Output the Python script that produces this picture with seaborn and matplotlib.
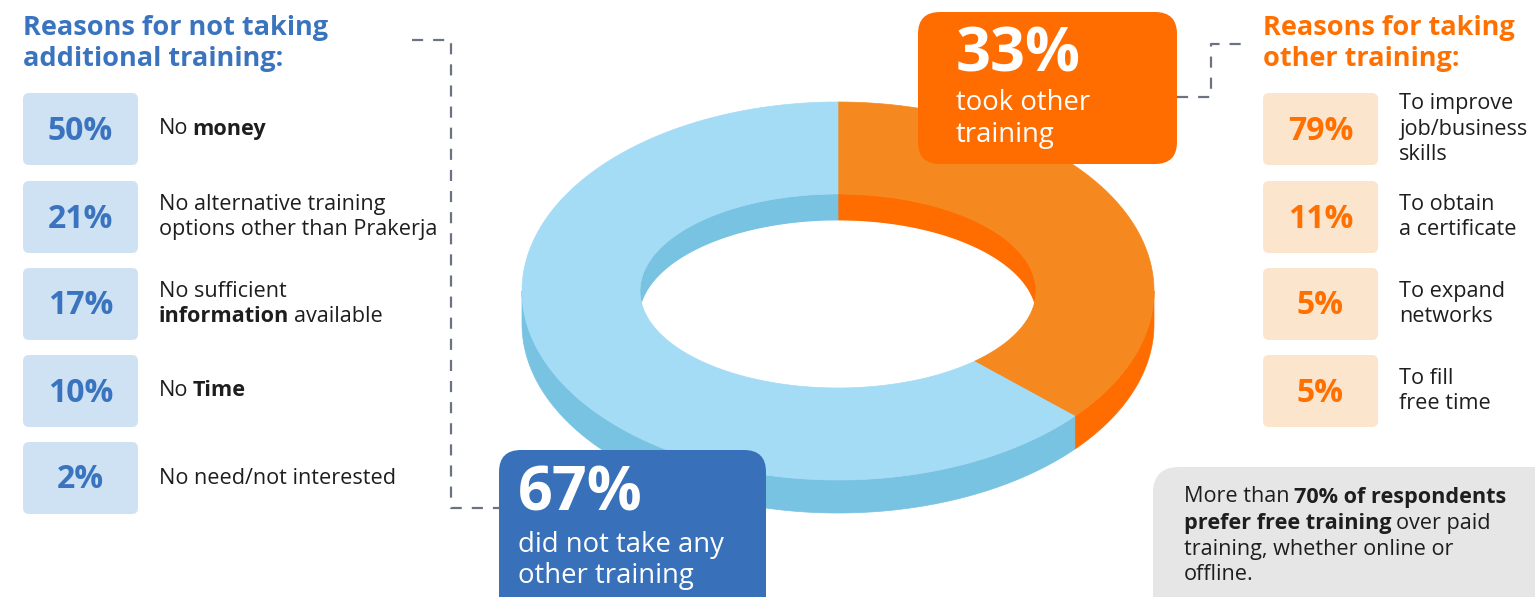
import numpy as np
import matplotlib
matplotlib.use("Agg")
import matplotlib.pyplot as plt
import seaborn as sns
from matplotlib.patches import Polygon, FancyBboxPatch

# ---------------- data ----------------
ring_labels = ["took other training", "did not take any other training"]
ring_values = [33, 67]

left_title = ["Reasons for not taking", "additional training:"]
left_pct = ["50%", "21%", "17%", "10%", "2%"]
left_reasons = [
    [[("No", False), ("money", True)]],
    [[("No alternative training", False)], [("options other than Prakerja", False)]],
    [[("No sufficient", False)], [("information", True), ("available", False)]],
    [[("No", False), ("Time", True)]],
    [[("No need/not interested", False)]],
]

right_title = ["Reasons for taking", "other training:"]
right_pct = ["79%", "11%", "5%", "5%"]
right_reasons = [
    [[("To improve", False)], [("job/business", False)], [("skills", False)]],
    [[("To obtain", False)], [("a certificate", False)]],
    [[("To expand", False)], [("networks", False)]],
    [[("To fill", False)], [("free time", False)]],
]

orange_big = "33%"
orange_sub = ["took other", "training"]
blue_big = "67%"
blue_sub = ["did not take any", "other training"]

note_lines = [
    [("More than", False), ("70% of respondents", True)],
    [("prefer free training", True), ("over paid", False)],
    [("training, whether online or", False)],
    [("offline.", False)],
]

# ---------------- style ----------------
sns.set_theme(style="white")
FONT = ["Open Sans", "DejaVu Sans"]
plt.rcParams["font.family"] = FONT

C_BLUE = "#3871B9"
C_BLUE_T = "#3A74BF"
C_ORANGE = "#FF6D00"
C_ORANGE_T = "#FF7000"
C_LBLUE_BOX = "#CFE2F4"
C_LORANGE_BOX = "#FCE5CD"
C_GRAY_BOX = "#E6E6E6"
C_TEXT = "#1E1E1E"
C_DASH = "#6B7280"
ring_top = ["#F5891F", "#A4DBF5"]
ring_side = ["#FF6D00", "#78C2E2"]

BODY = 15.6

W, H = 1535, 597
fig = plt.figure(figsize=(W / 100, H / 100), dpi=100)
ax = fig.add_axes([0, 0, 1, 1])
ax.set_xlim(0, W)
ax.set_ylim(H, 0)
ax.axis("off")


def rich_line(x, y, segs, size, color, z=5):
    prev = None
    for txt, bold in segs:
        kw = dict(fontsize=size, color=color, fontweight="bold" if bold else "normal",
                  family=FONT, zorder=z)
        if prev is None:
            prev = ax.text(x, y, txt, ha="left", va="center", **kw)
        else:
            prev = ax.annotate(txt, xy=(1, 0.5), xycoords=prev, xytext=(size * 0.2, 0),
                               textcoords="offset points", ha="left", va="center", **kw)


def rbox(x, y, w, h, r, fc, z=3):
    ax.add_patch(FancyBboxPatch((x, y), w, h, boxstyle=f"round,pad=0,rounding_size={r}",
                                fc=fc, ec="none", zorder=z))


# ---------------- donut (3D ring with mild perspective warp) ----------------
cx, cy = 838, 291
ao, bo = 316, 189
ai, bi = 198, 97
d_out, d_in = 33, 27
k_out, k_in = -15.0, -21.0   # perspective: far side compressed, near side stretched


def arc(a, b, t0, t1, k, dy=0, n=240):
    t = np.linspace(t0, t1, n)
    th = np.radians(t + k * np.sin(np.radians(2 * t)))
    return np.column_stack([cx + a * np.sin(th), cy - b * np.cos(th) + dy])


bounds = np.concatenate([[0], np.cumsum(ring_values) / np.sum(ring_values) * 360])

# outer walls (front half only)
for i in range(len(ring_values)):
    lo, hi = max(bounds[i], 90), min(bounds[i + 1], 270)
    if lo < hi:
        a = arc(ao, bo, lo, hi, k_out)
        poly = np.vstack([a, a[::-1] + [0, d_out]])
        ax.add_patch(Polygon(poly, closed=True, fc=ring_side[i], ec=ring_side[i], lw=0.5, zorder=1))

# top faces
for i in range(len(ring_values)):
    t0, t1 = bounds[i], bounds[i + 1]
    poly = np.vstack([arc(ao, bo, t0, t1, k_out), arc(ai, bi, t1, t0, k_in)])
    ax.add_patch(Polygon(poly, closed=True, fc=ring_top[i], ec=ring_top[i], lw=0.5, zorder=2))

# inner walls (wedges of inner ellipse)
for i in range(len(ring_values)):
    t0, t1 = bounds[i], bounds[i + 1]
    poly = np.vstack([[cx, cy], arc(ai, bi, t0, t1, k_in)])
    ax.add_patch(Polygon(poly, closed=True, fc=ring_side[i], ec=ring_side[i], lw=0.5, zorder=1.5))


# visible hole (intersection of top inner ellipse and the shifted bottom one)
def ell(a, b, t0, t1, dy=0, n=240):
    th = np.radians(np.linspace(t0, t1, n))
    return np.column_stack([cx + a * np.sin(th), cy - b * np.cos(th) + dy])


th1 = np.degrees(np.arccos(-d_in / (2 * bi)))
th2 = np.degrees(np.arccos(d_in / (2 * bi)))
hole = np.vstack([ell(ai, bi, th1, 360 - th1), ell(ai, bi, 360 - th2, 360 + th2, dy=d_in)])
ax.add_patch(Polygon(hole, closed=True, fc="white", ec="white", lw=0.8, zorder=1.8))

# ---------------- dashed connectors ----------------
ax.plot([412, 451, 451, 499], [40, 40, 508, 508], color=C_DASH, lw=1.6, dashes=(5, 4.5), zorder=0.5)
ax.plot([1177, 1211, 1211, 1250], [97, 97, 44, 44], color=C_DASH, lw=1.6, dashes=(5, 4.5), zorder=0.5)

# ---------------- titles ----------------
for k, line in enumerate(left_title):
    ax.text(23, 28 + 31 * k, line, fontsize=19.5, fontweight="bold", color=C_BLUE_T,
            ha="left", va="center")
for k, line in enumerate(right_title):
    ax.text(1263, 28 + 31 * k, line, fontsize=19.5, fontweight="bold", color=C_ORANGE_T,
            ha="left", va="center")

# ---------------- left list ----------------
box_y = [93, 181, 268, 355, 442]
for k, (p, lines) in enumerate(zip(left_pct, left_reasons)):
    y0 = box_y[k]
    rbox(23, y0, 115, 72, 6, C_LBLUE_BOX)
    ax.text(80.5, y0 + 38, p, fontsize=23, fontweight="bold", color=C_BLUE_T,
            ha="center", va="center", zorder=5)
    n = len(lines)
    for j, segs in enumerate(lines):
        yy = y0 + 36 + (j - (n - 1) / 2) * 25
        rich_line(159, yy, segs, BODY, C_TEXT)

# ---------------- right list ----------------
for k, (p, lines) in enumerate(zip(right_pct, right_reasons)):
    y0 = box_y[k]
    rbox(1263, y0, 115, 72, 6, C_LORANGE_BOX)
    ax.text(1320.5, y0 + 38, p, fontsize=23, fontweight="bold", color=C_ORANGE_T,
            ha="center", va="center", zorder=5)
    n = len(lines)
    for j, segs in enumerate(lines):
        yy = y0 + 36 + (j - (n - 1) / 2) * 25.5
        rich_line(1399, yy, segs, BODY, C_TEXT)

# ---------------- callout boxes ----------------
rbox(918, 12, 259, 152, 22, C_ORANGE, z=4)
ax.text(956, 56, orange_big, fontsize=44, fontweight="bold", color="white",
        ha="left", va="center", zorder=6)
for j, line in enumerate(orange_sub):
    ax.text(956, 103 + 32 * j, line, fontsize=19.8, color="white", ha="left", va="center", zorder=6)

rbox(499, 450, 267, 180, 22, C_BLUE, z=4)
ax.text(518, 495, blue_big, fontsize=44, fontweight="bold", color="white",
        ha="left", va="center", zorder=6)
for j, line in enumerate(blue_sub):
    ax.text(518, 545 + 31 * j, line, fontsize=19.8, color="white", ha="left", va="center", zorder=6)

rbox(1153, 467, 420, 170, 26, C_GRAY_BOX, z=4)
for j, segs in enumerate(note_lines):
    rich_line(1184, 497 + 26 * j, segs, BODY, C_TEXT, z=6)

fig.savefig("out.png", dpi=100, facecolor="white")
